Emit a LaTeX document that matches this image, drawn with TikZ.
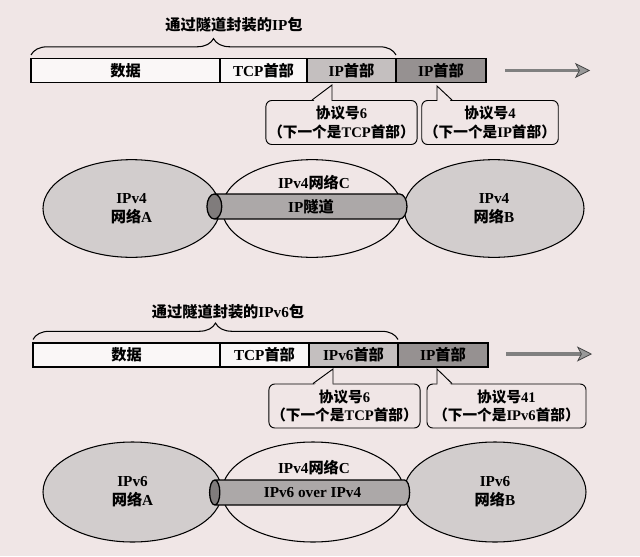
\documentclass[tikz,border=0pt]{standalone}
\usepackage{fontspec}
\setmainfont{Liberation Serif}
\newfontfamily\cjk{Noto Sans CJK SC}
\usetikzlibrary{arrows.meta,positioning,calc,shapes.geometric,decorations.pathreplacing}
\definecolor{paper}{RGB}{240,230,230}
\definecolor{netgray}{RGB}{210,205,205}
\definecolor{hdrlight}{RGB}{196,191,191}
\definecolor{hdrdark}{RGB}{150,145,145}
\definecolor{tubegray}{RGB}{172,168,168}
\definecolor{tubeend}{RGB}{128,124,124}
\definecolor{boxwhite}{RGB}{250,247,247}
\newcommand{\zh}[1]{{\cjk #1}}

\begin{document}
\begin{tikzpicture}[x=0.03cm,y=-0.03cm,
  font=\fontsize{13}{16}\selectfont\bfseries,
  seg/.style={draw,line width=1.1pt,minimum height=0.72cm,inner sep=0pt,outer sep=0pt,fill=boxwhite},
  brace/.style={decorate,decoration={brace,amplitude=14pt},line width=0.9pt},
  note/.style={draw,line width=0.8pt,rounded corners=5pt,fill=paper,align=center,inner sep=2pt,
    minimum height=1.32cm,font=\fontsize{12.5}{15.5}\selectfont\bfseries},
  ptr/.style={line width=0.8pt},
  net/.style={ellipse,draw,line width=0.9pt,fill=netgray,minimum height=2.93cm,align=center,inner sep=0pt},
  midnet/.style={net,fill=paper},
  tube/.style={cylinder,shape border rotate=180,aspect=1,draw,line width=1.1pt,
    cylinder uses custom fill,cylinder body fill=tubegray,cylinder end fill=tubeend,
    minimum height=6cm,minimum width=0.75cm,inner sep=0pt},
  flow/.style={line width=2.6pt,draw=black!50,
    -{Stealth[length=4.5mm,width=4.5mm,inset=1.2mm,line width=0.6pt,color=black!75,fill=black!40]}}
]
\fill[paper] (0,0) rectangle (640,556);

% upper half: IP packet in IP tunnel
\node (pkt1) at (234,25) {\zh{通过隧道封装的}IP\zh{包}};
\node[seg,minimum width=5.67cm,anchor=west] (data1) at (31,70.5) {\zh{数据}};
\node[seg,minimum width=2.61cm,right=0pt of data1] (tcp1) {TCP\zh{首部}};
\node[seg,minimum width=2.67cm,fill=hdrlight,right=0pt of tcp1] (inner1) {IP\zh{首部}};
\node[seg,minimum width=2.70cm,fill=hdrdark,right=0pt of inner1] (outer1) {IP\zh{首部}};
\draw[brace] ([yshift=3pt]data1.north west) -- ([yshift=3pt]inner1.north east);
\coordinate (go1) at (505,70.5);
\coordinate (to1) at (590,70.5);
\draw[flow] (go1) -- (to1);

\node[note,minimum width=4.29cm] (proto1a) at (341.5,122.5) {\zh{协议号}6\\\zh{（下一个是}TCP\zh{首部）}};
\node[note,minimum width=3.90cm] (proto1b) at (490,122.5) {\zh{协议号}4\\\zh{（下一个是}IP\zh{首部）}};
\coordinate (tip1a) at (332,85);
\coordinate (tip1b) at (437,86);
\fill[paper] ($(tip1a|-proto1a.north)+(-19,1.5)$) -- (tip1a) -- ($(tip1a|-proto1a.north)+(-0.5,1.5)$) -- cycle;
\draw[ptr] ($(tip1a|-proto1a.north)+(-20,0)$) -- (tip1a) -- (tip1a|-proto1a.north);
\fill[paper] ($(tip1b|-proto1b.north)+(0.5,1.5)$) -- (tip1b) -- ($(tip1b|-proto1b.north)+(14,1.5)$) -- cycle;
\draw[ptr] (tip1b|-proto1b.north) -- (tip1b) -- ($(tip1b|-proto1b.north)+(15,0)$);

\node[net,minimum width=5.31cm] (netA1) at (131.5,208.5) {IPv4\\\zh{网络}A};
\node[midnet,minimum width=5.40cm] (netC1) at (312,208.5) {};
\node[net,minimum width=5.40cm] (netB1) at (494,208.5) {IPv4\\\zh{网络}B};
\node[tube] (tun1) at (311,206.5) {IP\zh{隧道}};
\node (nameC1) at (314,183) {IPv4\zh{网络}C};

% lower half: IPv6 packet over IPv4
\node (pkt2) at (228,312) {\zh{通过隧道封装的}IPv6\zh{包}};
\node[seg,minimum width=5.61cm,anchor=west] (data2) at (33,355) {\zh{数据}};
\node[seg,minimum width=2.67cm,right=0pt of data2] (tcp2) {TCP\zh{首部}};
\node[seg,minimum width=2.67cm,fill=hdrlight,right=0pt of tcp2] (inner2) {IPv6\zh{首部}};
\node[seg,minimum width=2.70cm,fill=hdrdark,right=0pt of inner2] (outer2) {IP\zh{首部}};
\draw[brace] ([yshift=3pt]data2.north west) -- ([yshift=3pt]inner2.north east);
\coordinate (go2) at (506,354);
\coordinate (to2) at (592,354);
\draw[flow] (go2) -- (to2);

\node[note,minimum width=4.29cm] (proto2a) at (344.5,406) {\zh{协议号}6\\\zh{（下一个是}TCP\zh{首部）}};
\node[note,minimum width=4.77cm] (proto2b) at (506.5,406) {\zh{协议号}41\\\zh{（下一个是}IPv6\zh{首部）}};
\coordinate (tip2a) at (333,369);
\coordinate (tip2b) at (437,369);
\fill[paper] ($(tip2a|-proto2a.north)+(-19,1.5)$) -- (tip2a) -- ($(tip2a|-proto2a.north)+(-0.5,1.5)$) -- cycle;
\draw[ptr] ($(tip2a|-proto2a.north)+(-20,0)$) -- (tip2a) -- (tip2a|-proto2a.north);
\fill[paper] ($(tip2b|-proto2b.north)+(0.5,1.5)$) -- (tip2b) -- ($(tip2b|-proto2b.north)+(14,1.5)$) -- cycle;
\draw[ptr] (tip2b|-proto2b.north) -- (tip2b) -- ($(tip2b|-proto2b.north)+(15,0)$);

\node[net,minimum width=5.37cm,minimum height=3.0cm] (netA2) at (132.5,492) {IPv6\\\zh{网络}A};
\node[midnet,minimum width=5.46cm,minimum height=3.0cm] (netC2) at (313,492) {};
\node[net,minimum width=5.46cm,minimum height=3.0cm] (netB2) at (495,492) {IPv6\\\zh{网络}B};
\node[tube] (tun2) at (312.5,492.5) {IPv6 over IPv4};
\node (nameC2) at (314,468) {IPv4\zh{网络}C};
\end{tikzpicture}
\end{document}
